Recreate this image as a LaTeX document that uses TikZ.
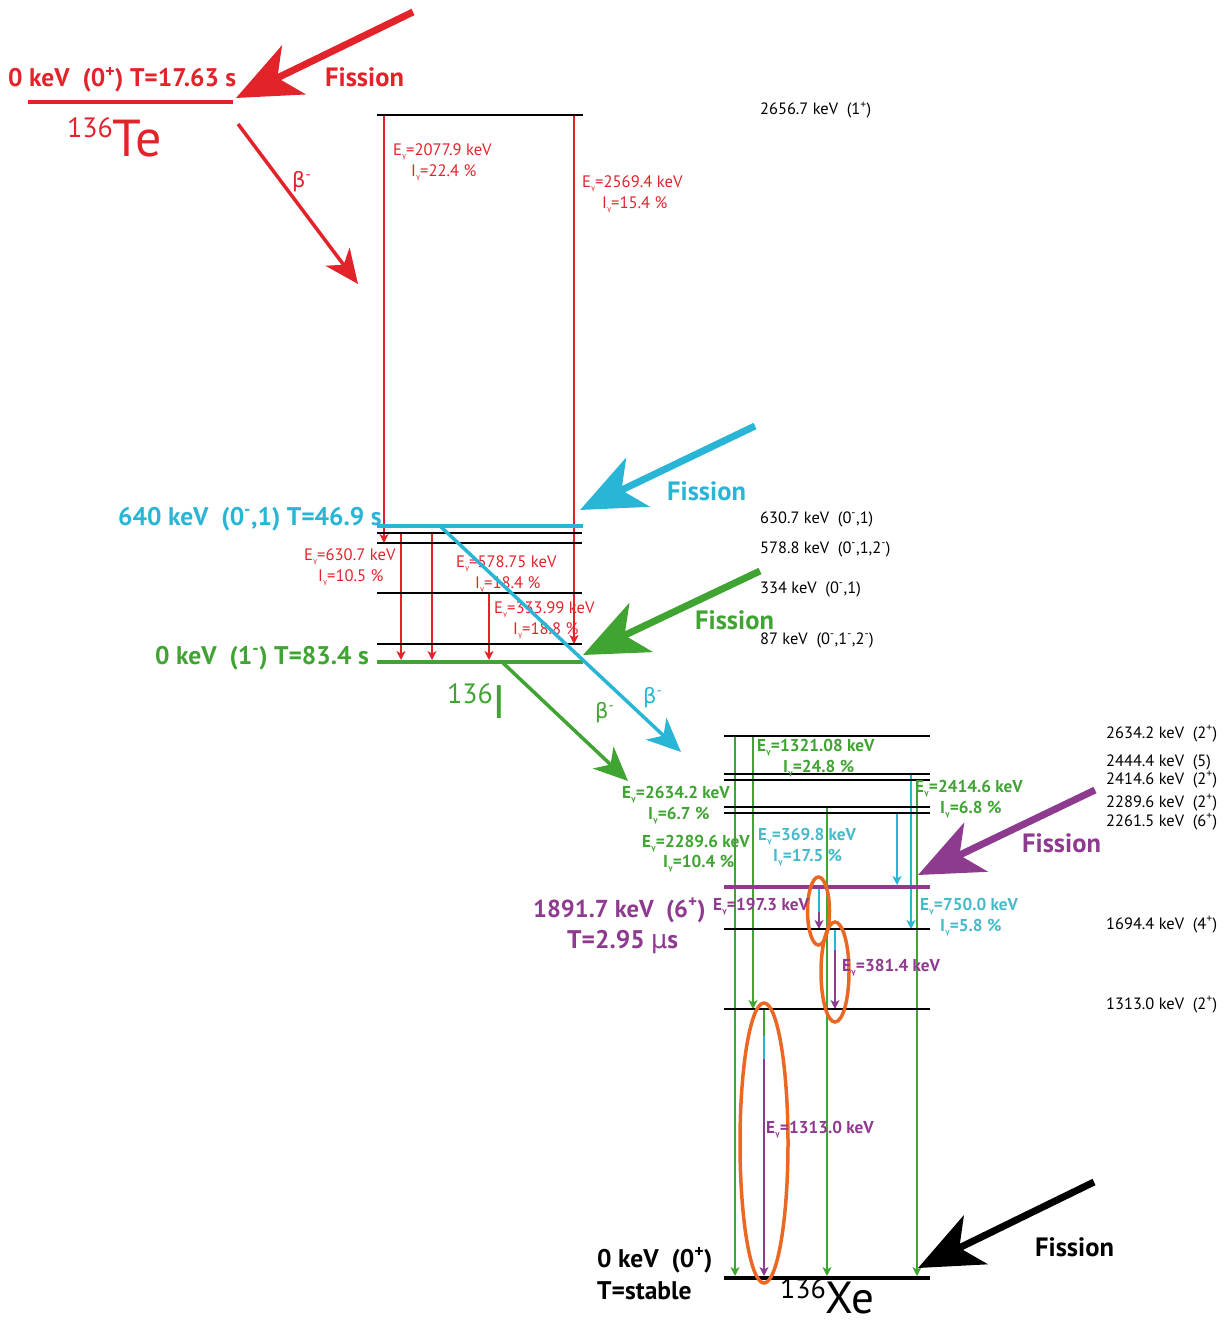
\documentclass[tikz,border=0pt]{standalone}
\usepackage{fontspec}
\setmainfont{PT Sans}
\newfontfamily\grk{DejaVu Sans}
\usetikzlibrary{arrows.meta}
\definecolor{cRed}{RGB}{226,35,42}
\definecolor{cCyan}{RGB}{41,182,214}
\definecolor{cCyanT}{RGB}{70,186,202}
\definecolor{cGreen}{RGB}{64,164,50}
\definecolor{cPurple}{RGB}{142,58,143}
\definecolor{cOrange}{RGB}{234,104,36}
\newcommand\gs{\raisebox{-3.5pt}{\fontsize{7}{7}\selectfont\grk γ}}
\newcommand\Eg{E\gs}
\newcommand\Ig{I\gs}
\newcommand\sps[1]{\textsuperscript{#1}}
\tikzset{
  lev/.style={line width=1.5pt, black},
  levthick/.style={line width=4pt},
  gam/.style={line width=1.3pt, -{Stealth[length=9pt,width=9pt,inset=2.5pt]}},
  gamn/.style={line width=1.3pt},
  fis/.style={line width=7pt, -{Stealth[length=64pt,width=54pt,inset=18pt]}},
  bet/.style={line width=3.5pt, -{Stealth[length=34pt,width=30pt,inset=10pt]}},
  big/.style={font=\fontsize{25.5}{28}\selectfont\bfseries, anchor=base west, inner sep=0pt},
  fisl/.style={font=\fontsize{26.5}{28}\selectfont\bfseries, anchor=base west, inner sep=0pt},
  sm/.style={font=\fontsize{16.6}{18}\selectfont, anchor=base west, inner sep=0pt},
  smb/.style={font=\fontsize{17.2}{18}\selectfont\bfseries, anchor=base west, inner sep=0pt},
  lv/.style={font=\fontsize{16.4}{18}\selectfont, anchor=base west, inner sep=0pt},
  betl/.style={font=\fontsize{21}{24}\selectfont, anchor=base west, inner sep=0pt},
  iso/.style={anchor=base west, inner sep=0pt},
  ell/.style={cOrange, line width=3.5pt}
}
\begin{document}
\begin{tikzpicture}[x=1pt,y=-1pt]
\useasboundingbox (0,0) rectangle (1225,1327);

% ---------------- Te ----------------
\coordinate (teL) at (28,102);
\coordinate (teR) at (233,102);
\draw[cRed, levthick] (teL) -- (teR);
\node[big, text=cRed] (teLab) at (8,87) {0 keV\ \ (0\sps{+}) T=17.63 s};
\node[fisl, text=cRed] (teFis) at (325,87) {Fission};
\node[iso, text=cRed, font=\fontsize{52}{52}\selectfont] (teName) at (67,157) {\raisebox{19pt}{\fontsize{28}{28}\selectfont 136}Te};
\coordinate (fR0) at (413,12);
\coordinate (fR1) at (236,98);
\draw[fis, cRed] (fR0) -- (fR1);
\coordinate (bR0) at (238,124);
\coordinate (bR1) at (358,284);
\draw[bet, cRed] (bR0) -- (bR1);
\node[betl, text=cRed] (bRl) at (292,187) {{\grk β}\sps{-}};

% ---------------- I ----------------
\coordinate (I2656) at (377,115);
\coordinate (I640) at (377,526);
\coordinate (I630) at (377,533);
\coordinate (I578) at (377,543);
\coordinate (I334) at (377,593);
\coordinate (I87) at (377,644);
\coordinate (I0) at (377,662);
\draw[gam, cRed] (384,0 |- I2656) -- (384,0 |- I578);
\draw[gam, cRed] (574,0 |- I2656) -- (574,0 |- I87);
\draw[gam, cRed] (401,0 |- I630) -- (401,660);
\draw[gam, cRed] (432,0 |- I630) -- (432,660);
\draw[gam, cRed] (489,0 |- I334) -- (489,660);
\draw[lev] (I2656) -- ++(206,0);
\draw[lev] (I630) -- ++(205,0);
\draw[lev] (I578) -- ++(205,0);
\draw[lev] (I334) -- ++(205,0);
\draw[lev] (I87) -- ++(205,0);
\draw[cCyan, levthick] (I640) -- ++(206,0);
\draw[cGreen, levthick] (I0) -- ++(206,0);

\node[sm, text=cRed] (r1a) at (393,155) {\Eg=2077.9 keV};
\node[sm, text=cRed] (r1b) at (411,176) {\Ig=22.4 \%};
\node[sm, text=cRed] (r2a) at (582,187) {\Eg=2569.4 keV};
\node[sm, text=cRed] (r2b) at (602,208) {\Ig=15.4 \%};
\node[sm, text=cRed] (r3a) at (304,560) {\Eg=630.7 keV};
\node[sm, text=cRed] (r3b) at (318,581) {\Ig=10.5 \%};
\node[sm, text=cRed] (r4a) at (456,567) {\Eg=578.75 keV};
\node[sm, text=cRed] (r4b) at (475,588) {\Ig=18.4 \%};
\node[sm, text=cRed] (r5a) at (494,613) {\Eg=333.99 keV};
\node[sm, text=cRed] (r5b) at (513,634) {\Ig=18.8 \%};

\node[lv] (l1) at (760,115) {2656.7 keV\ \ (1\sps{+})};
\node[lv] (l2) at (760,523) {630.7 keV\ \ (0\sps{-},1)};
\node[lv] (l3) at (760,553) {578.8 keV\ \ (0\sps{-},1,2\sps{-})};
\node[lv] (l4) at (760,593) {334 keV\ \ (0\sps{-},1)};
\node[lv] (l5) at (760,644) {87 keV\ \ (0\sps{-},1\sps{-},2\sps{-})};

\node[big, text=cCyan] (iMeta) at (118,525) {640 keV\ \ (0\sps{-},1) T=46.9 s};
\node[big, text=cGreen] (iGs) at (155,664) {0 keV\ \ (1\sps{-}) T=83.4 s};
\node[iso, text=cGreen, font=\fontsize{47}{47}\selectfont] (iName) at (447,718) {\raisebox{15pt}{\fontsize{28}{28}\selectfont 136}I};

\coordinate (fC0) at (755,426);
\coordinate (fC1) at (580,510);
\draw[fis, cCyan] (fC0) -- (fC1);
\node[fisl, text=cCyan] (fCl) at (667,500) {Fission};
\coordinate (fG0) at (760,571);
\coordinate (fG1) at (583,655);
\draw[fis, cGreen] (fG0) -- (fG1);
\node[fisl, text=cGreen] (fGl) at (695,629) {Fission};

% ---------------- Xe ----------------
\coordinate (X2634) at (724,736);
\coordinate (X2444) at (724,774);
\coordinate (X2414) at (724,780);
\coordinate (X2289) at (724,807);
\coordinate (X2261) at (724,813);
\coordinate (X1891) at (724,887);
\coordinate (X1694) at (724,929);
\coordinate (X1313) at (724,1009);
\coordinate (X0) at (724,1278);

\draw[gam, cGreen] (735,0 |- X2634) -- (735,1276);
\draw[gam, cGreen] (753,0 |- X2634) -- (753,0 |- X1313);
\draw[gam, cGreen] (827,0 |- X2289) -- (827,1276);
\draw[gam, cGreen] (917,0 |- X2414) -- (917,1276);
\draw[gam, cCyan] (911,0 |- X2444) -- (911,0 |- X1694);
\draw[gam, cCyan] (897,0 |- X2261) -- (897,885);
\coordinate (g1a) at (819,889);
\coordinate (g1b) at (819,912);
\coordinate (g1c) at (819,929);
\draw[gamn, cCyan] (g1a) -- (g1b);
\draw[gam, cPurple] (g1b) -- (g1c);
\coordinate (g2a) at (835,930);
\coordinate (g2b) at (835,950);
\coordinate (g2c) at (835,1009);
\draw[gamn, cCyan] (g2a) -- (g2b);
\draw[gam, cPurple] (g2b) -- (g2c);
\coordinate (g3a) at (764,1010);
\coordinate (g3b) at (764,1036);
\coordinate (g3c) at (764,1059);
\coordinate (g3d) at (764,1276);
\draw[gamn, cGreen] (g3a) -- (g3b);
\draw[gamn, cCyan] (g3b) -- (g3c);
\draw[gam, cPurple] (g3c) -- (g3d);

\foreach \L in {X2634,X2444,X2414,X2289,X2261,X1694,X1313}
  \draw[lev] (\L) -- ++(206,0);
\draw[cPurple, levthick] (X1891) -- ++(206,0);
\draw[black, levthick] (X0) -- ++(206,0);

\draw[ell] (818.5,911) ellipse [x radius=11pt, y radius=34pt];
\draw[ell] (835,972) ellipse [x radius=14pt, y radius=50pt];
\draw[ell] (764,1143) ellipse [x radius=24pt, y radius=140pt];

\node[lv] (x1) at (1106,738) {2634.2 keV\ \ (2\sps{+})};
\node[lv] (x2) at (1106,766) {2444.4 keV\ \ (5)};
\node[lv] (x3) at (1106,784) {2414.6 keV\ \ (2\sps{+})};
\node[lv] (x4) at (1106,807) {2289.6 keV\ \ (2\sps{+})};
\node[lv] (x5) at (1106,826) {2261.5 keV\ \ (6\sps{+})};
\node[lv] (x6) at (1106,929) {1694.4 keV\ \ (4\sps{+})};
\node[lv] (x7) at (1106,1009) {1313.0 keV\ \ (2\sps{+})};

\node[smb, text=cGreen] (xg1a) at (757,751) {\Eg=1321.08 keV};
\node[smb, text=cGreen] (xg1b) at (783,772) {\Ig=24.8 \%};
\node[smb, text=cGreen] (xg2a) at (915,792) {\Eg=2414.6 keV};
\node[smb, text=cGreen] (xg2b) at (940,813) {\Ig=6.8 \%};
\node[smb, text=cGreen] (xg3a) at (622,798) {\Eg=2634.2 keV};
\node[smb, text=cGreen] (xg3b) at (648,819) {\Ig=6.7 \%};
\node[smb, text=cGreen] (xg4a) at (642,847) {\Eg=2289.6 keV};
\node[smb, text=cGreen] (xg4b) at (663,867) {\Ig=10.4 \%};
\node[smb, text=cCyanT] (xc1a) at (758,840) {\Eg=369.8 keV};
\node[smb, text=cCyanT] (xc1b) at (773,861) {\Ig=17.5 \%};
\node[smb, text=cCyanT] (xc2a) at (920,910) {\Eg=750.0 keV};
\node[smb, text=cCyanT] (xc2b) at (940,931) {\Ig=5.8 \%};
\node[smb, text=cPurple] (xp1) at (713,910) {\Eg=197.3 keV};
\node[smb, text=cPurple] (xp2) at (842,971) {\Eg=381.4 keV};
\node[smb, text=cPurple] (xp3) at (766,1133) {\Eg=1313.0 keV};

\node[big, text=cPurple, font=\fontsize{24.5}{28}\selectfont\bfseries] (xIso1) at (533,917) {1891.7 keV\ \ (6\sps{+})};
\node[big, text=cPurple] (xIso2) at (567,948) {T=2.95 {\mdseries\grk μ}s};
\node[big] (xGs1) at (597,1267) {0 keV\ \ (0\sps{+})};
\node[big] (xGs2) at (597,1299) {T=stable};
\node[iso, font=\fontsize{45}{45}\selectfont] (xName) at (780,1313) {\raisebox{15pt}{\fontsize{28}{28}\selectfont 136}Xe};

\coordinate (fP0) at (1095,790);
\coordinate (fP1) at (918,875);
\draw[fis, cPurple] (fP0) -- (fP1);
\node[fisl, text=cPurple] (fPl) at (1022,852) {Fission};
\coordinate (fK0) at (1094,1182);
\coordinate (fK1) at (918,1268);
\draw[fis, black] (fK0) -- (fK1);
\node[fisl] (fKl) at (1035,1256) {Fission};

% beta arrows
\coordinate (bC0) at (440,526);
\coordinate (bC1) at (681,752);
\draw[bet, cCyan] (bC0) -- (bC1);
\node[betl, text=cCyan] (bCl) at (643,703) {{\grk β}\sps{-}};
\coordinate (bG0) at (502,662);
\coordinate (bG1) at (628,781);
\draw[bet, cGreen] (bG0) -- (bG1);
\node[betl, text=cGreen] (bGl) at (595,718) {{\grk β}\sps{-}};
\end{tikzpicture}
\end{document}
